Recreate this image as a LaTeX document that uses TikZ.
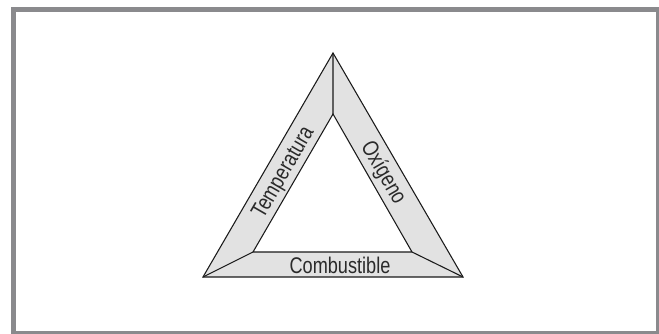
\documentclass[tikz,border=0pt]{standalone}
\usepackage{fontspec}
\setmainfont{Liberation Sans}[FakeStretch=0.8]
\usetikzlibrary{positioning,calc}
\definecolor{Frame}{HTML}{8A8A8D}
\definecolor{Band}{HTML}{E2E2E2}
\definecolor{Ink}{HTML}{1A1A1A}
\definecolor{Word}{HTML}{2A2A2A}
\tikzset{
  band/.style={fill=Band,draw=Ink,line width=.8pt,line join=miter},
  hole/.style={fill=white,draw=Ink,line width=.8pt},
  seam/.style={draw=Ink,line width=.8pt},
  side/.style={font=\fontsize{17}{20}\selectfont,text=Word,inner sep=0pt}
}
\begin{document}
\begin{tikzpicture}[x=.75pt,y=-.75pt]
    \useasboundingbox (0,0) rectangle (659,334);
    \fill[Frame] (11,7) rectangle (659,334);
    \fill[white] (16,12) rectangle (656,331);
    % outer and inner corners
    \coordinate (apex) at (333,53); \coordinate (bl) at (203,277); \coordinate (br) at (463,277);
    \coordinate (iapex) at (333,114); \coordinate (ibl) at (253,252); \coordinate (ibr) at (412,252);
    \draw[band] (apex)--(br)--(bl)--cycle;
    \draw[hole] (iapex)--(ibr)--(ibl)--cycle;
    \draw[seam] (apex)--(iapex) (bl)--(ibl) (br)--(ibr);
    \node[side,rotate=60] (temp) at (284,173) {Temperatura};
    \node[side,rotate=-60] (oxi) at (383,173) {Oxígeno};
    \node[side] (comb) at (340,265.5) {Combustible};
  \end{tikzpicture}
\end{document}
